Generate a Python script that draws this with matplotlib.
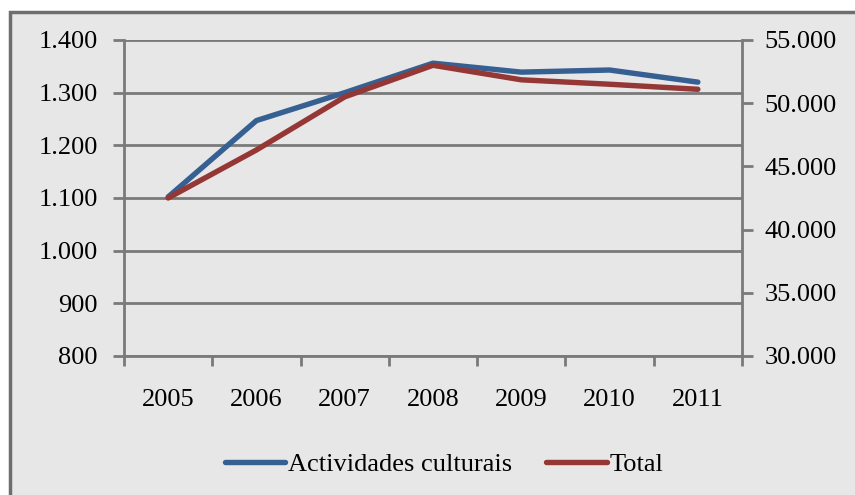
import matplotlib
matplotlib.use("Agg")
import matplotlib.pyplot as plt
from matplotlib.lines import Line2D
from matplotlib.patches import Rectangle

years = ["2005", "2006", "2007", "2008", "2009", "2010", "2011"]
culturais = [1102, 1247, 1300, 1356, 1339, 1343, 1320]
total = [42500, 46300, 50500, 53000, 51850, 51500, 51100]
left_ticks = [800, 900, 1000, 1100, 1200, 1300, 1400]
right_ticks = [30000, 35000, 40000, 45000, 50000, 55000]

def fmt(v):
    return f"{v:,}".replace(",", ".")

plt.rcParams['font.family'] = ['Liberation Serif', 'DejaVu Serif']
BG = '#E7E7E7'
AX = '#7A7A7A'
BLUE = '#376092'
RED = '#953735'
FS = 19
LW = 3.9

fig = plt.figure(figsize=(8.55, 4.95), dpi=100)
fig.patch.set_facecolor('white')
bgrect = Rectangle((10/855, -0.05), 1.0, 1 - 12/495 + 0.05,
                   transform=fig.transFigure, facecolor=BG,
                   edgecolor='#6E6E6E', linewidth=2.5, zorder=-10)
fig.add_artist(bgrect)

ax = fig.add_axes([124/855, 1 - 356/495, (742 - 124)/855, (356 - 40)/495])
ax.set_facecolor('none')
ax2 = ax.twinx()
ax2.set_facecolor('none')

x = list(range(len(years)))
ax.plot(x, culturais, color=BLUE, lw=LW, solid_capstyle='round', solid_joinstyle='round', zorder=3)
ax2.plot(x, total, color=RED, lw=LW, solid_capstyle='round', solid_joinstyle='round', zorder=3)

ax.set_xlim(-0.5, len(years) - 0.5)
ax.set_ylim(800, 1400)
ax2.set_ylim(30000, 55000)
ax.set_yticks(left_ticks)
ax.set_yticklabels([fmt(v) for v in left_ticks], fontsize=FS)
ax2.set_yticks(right_ticks)
ax2.set_yticklabels([fmt(v) for v in right_ticks], fontsize=FS)

ax.set_xticks([i + 0.5 for i in range(-1, len(years))])
ax.set_xticklabels([])
ax.set_xticks(x, minor=True)
ax.set_xticklabels(years, minor=True, fontsize=FS)
ax.tick_params(axis='x', which='minor', length=0, pad=24)
ax.tick_params(axis='x', which='major', length=7, width=2, color=AX, direction='out')
ax.tick_params(axis='y', length=8, width=2, color=AX, direction='out', pad=11)
ax2.tick_params(axis='y', length=8, width=2, color=AX, direction='out', pad=8)

ax.grid(axis='y', color=AX, lw=2)
ax.set_axisbelow(True)
for a in (ax, ax2):
    for s in a.spines.values():
        s.set_visible(False)
ax.spines['left'].set_visible(True)
ax.spines['left'].set_color(AX)
ax.spines['left'].set_linewidth(2)
ax.spines['bottom'].set_visible(True)
ax.spines['bottom'].set_color(AX)
ax.spines['bottom'].set_linewidth(2)
ax2.spines['right'].set_visible(True)
ax2.spines['right'].set_color(AX)
ax2.spines['right'].set_linewidth(2)

handles = [Line2D([], [], color=BLUE, lw=LW, solid_capstyle='round'),
           Line2D([], [], color=RED, lw=LW, solid_capstyle='round')]
fig.legend(handles, ["Actividades culturais", "Total"], loc='center',
           bbox_to_anchor=(444/855, 1 - 464/495), ncol=2, frameon=False,
           fontsize=FS, handlelength=2.3, handletextpad=0.1, columnspacing=1.3)

fig.savefig("out.png", dpi=100)
